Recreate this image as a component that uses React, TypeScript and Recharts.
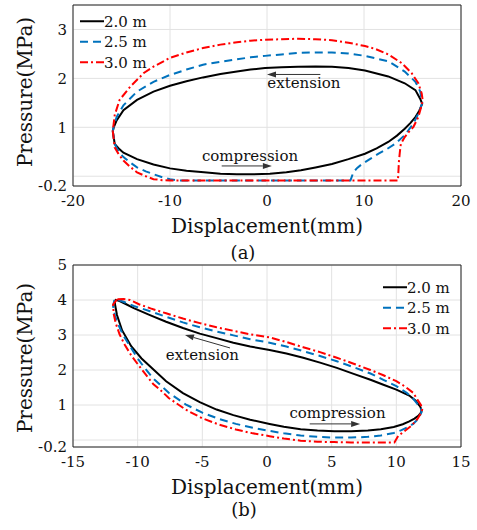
import { LineChart, Line, XAxis, YAxis, CartesianGrid, ReferenceLine, ReferenceDot, Legend } from "recharts"

type Pt = [number, number]

const FONT = "DejaVu Serif"

const seriesNames = ["2.0 m", "2.5 m", "3.0 m"]
const seriesColors = ["#000000", "#0072BD", "#FF0000"]
const seriesDash = [undefined, "8 5", "8 3 2 3"]

// (a) displacement (mm) vs pressure (MPa): compression branch left→right, then extension back
const loopA20: Pt[] = [
  [-15.9, 0.92], [-15.7, 0.66], [-15.2, 0.55], [-14.8, 0.48], [-13.4, 0.35], [-11.7, 0.24], [-10, 0.16],
  [-8.3, 0.11], [-6.5, 0.08], [-4.8, 0.05], [-3.1, 0.04], [-1.4, 0.04], [0.3, 0.05], [2.0, 0.08],
  [3.5, 0.12], [5.0, 0.18], [6.7, 0.25], [8.4, 0.35], [10.1, 0.46], [11.3, 0.57], [12.5, 0.7],
  [13.4, 0.83], [14.2, 0.97], [14.8, 1.09], [15.3, 1.21], [15.7, 1.34], [16.0, 1.48],
  [15.8, 1.58], [15.3, 1.76], [14.2, 1.9], [12.5, 2.04], [10.1, 2.16], [8.4, 2.21], [6.7, 2.24],
  [5.0, 2.245], [3.2, 2.24], [1.5, 2.23], [-0.2, 2.21], [-1.7, 2.18], [-3.1, 2.14], [-4.8, 2.09],
  [-6.6, 2.02], [-8.3, 1.94], [-10.0, 1.85], [-11.7, 1.73], [-13.4, 1.56], [-14.8, 1.35],
  [-15.5, 1.14], [-15.8, 1.0], [-15.9, 0.92],
]
const loopA25: Pt[] = [
  [-15.9, 0.92], [-15.7, 0.66], [-15.3, 0.5], [-14.8, 0.39], [-14.1, 0.28], [-13.4, 0.18], [-12.5, 0.1],
  [-11.7, 0.04], [-10.8, -0.02], [-10.0, -0.06], [-9.0, -0.09], [8.6, -0.09], [8.9, 0.08], [9.3, 0.17],
  [9.8, 0.25], [10.6, 0.35], [11.5, 0.46], [12.4, 0.56], [13.2, 0.66], [14.2, 0.84], [15.1, 1.08],
  [15.7, 1.32], [16.0, 1.5],
  [15.8, 1.73], [15.3, 1.93], [14.2, 2.14], [12.5, 2.35], [10.1, 2.46], [8.4, 2.51], [6.7, 2.53],
  [5.0, 2.53], [3.2, 2.52], [1.5, 2.49], [-0.2, 2.46], [-1.7, 2.43], [-3.1, 2.39], [-4.8, 2.34],
  [-6.6, 2.28], [-8.3, 2.18], [-10.0, 2.07], [-11.7, 1.93], [-13.4, 1.73], [-14.8, 1.45],
  [-15.5, 1.21], [-15.8, 1.02], [-15.9, 0.92],
]
const loopA30: Pt[] = [
  [-15.9, 0.92], [-15.7, 0.59], [-15.3, 0.45], [-14.8, 0.32], [-14.1, 0.19], [-13.4, 0.08], [-12.5, 0.0],
  [-11.7, -0.06], [-10.8, -0.08], [-10.0, -0.09], [13.5, -0.09], [13.6, 0.3], [13.7, 0.5], [13.8, 0.66],
  [14.2, 0.8], [14.6, 0.9], [15.1, 1.01], [15.6, 1.21], [15.9, 1.42], [16.05, 1.55],
  [15.95, 1.69], [15.6, 1.9], [14.9, 2.11], [13.9, 2.31], [12.5, 2.49], [11.2, 2.6], [10.1, 2.66],
  [8.4, 2.73], [6.7, 2.78], [5.0, 2.8], [3.2, 2.81], [1.5, 2.8], [-0.2, 2.79], [-1.7, 2.77],
  [-3.1, 2.74], [-4.8, 2.69], [-6.6, 2.62], [-8.3, 2.53], [-10.0, 2.42], [-11.7, 2.24], [-12.7, 2.11],
  [-14.1, 1.83], [-15.2, 1.56], [-15.7, 1.25], [-15.9, 0.92],
]

// (b)
const loopB20: Pt[] = [
  [-11.76, 4.01], [-11.75, 3.87], [-11.6, 3.57], [-11.2, 3.13], [-10.5, 2.68], [-9.7, 2.33], [-8.8, 2.02],
  [-7.8, 1.68], [-6.5, 1.34], [-5.2, 1.08], [-3.9, 0.87], [-2.6, 0.71], [-1.3, 0.58], [0.2, 0.46],
  [1.3, 0.38], [2.6, 0.31], [3.9, 0.27], [5.2, 0.25], [6.5, 0.25], [7.8, 0.27], [8.8, 0.31],
  [9.8, 0.37], [10.5, 0.45], [11.0, 0.53], [11.4, 0.61], [11.7, 0.69], [11.9, 0.78], [11.96, 0.84],
  [11.85, 0.95], [11.5, 1.12], [11.0, 1.27], [10.0, 1.44], [9.0, 1.58], [8.0, 1.72], [6.7, 1.89],
  [5.4, 2.06], [4.1, 2.21], [2.8, 2.35], [1.5, 2.47], [0.2, 2.57], [-1.3, 2.67], [-2.6, 2.78],
  [-3.9, 2.91], [-5.2, 3.04], [-6.5, 3.2], [-7.8, 3.38], [-9.05, 3.57], [-10.3, 3.77], [-11.0, 3.9],
  [-11.4, 3.97], [-11.76, 4.01],
]
const loopB25: Pt[] = [
  [-11.8, 4.0], [-11.9, 3.82], [-11.75, 3.55], [-11.5, 3.3], [-11.1, 2.98], [-10.6, 2.68], [-10.0, 2.33],
  [-9.4, 2.03], [-8.8, 1.76], [-7.6, 1.35], [-6.3, 1.02], [-5.0, 0.78], [-3.7, 0.6], [-2.4, 0.46],
  [-1.1, 0.35], [0.2, 0.26], [1.3, 0.19], [2.6, 0.13], [3.9, 0.09], [5.2, 0.07], [6.5, 0.07], [7.8, 0.09],
  [8.8, 0.13], [9.8, 0.2], [10.4, 0.28], [10.9, 0.37], [11.3, 0.46], [11.6, 0.57], [11.8, 0.68],
  [11.95, 0.8],
  [11.9, 0.9], [11.7, 1.0], [11.3, 1.18], [10.8, 1.35], [10.0, 1.54], [9.0, 1.72], [8.0, 1.9],
  [6.7, 2.08], [5.4, 2.25], [4.1, 2.4], [2.8, 2.54], [1.5, 2.67], [0.2, 2.78], [-1.3, 2.88],
  [-2.6, 2.99], [-3.9, 3.1], [-5.2, 3.22], [-6.5, 3.36], [-7.8, 3.52], [-9.05, 3.68], [-10.3, 3.83],
  [-11.1, 3.95], [-11.5, 4.0], [-11.8, 4.0],
]
const loopB30: Pt[] = [
  [-11.6, 4.02], [-11.9, 3.87], [-11.85, 3.6], [-11.7, 3.34], [-11.4, 3.02], [-11.0, 2.72], [-10.5, 2.42],
  [-10.0, 2.17], [-9.4, 1.88], [-8.8, 1.6], [-8.1, 1.38], [-7.6, 1.2], [-6.3, 0.87], [-5.0, 0.62],
  [-3.7, 0.44], [-2.4, 0.3], [-1.1, 0.19], [0.2, 0.11], [1.3, 0.04], [2.6, -0.02], [3.9, -0.05],
  [5.2, -0.06], [6.5, -0.07], [7.8, -0.07], [9.85, -0.07], [10.15, 0.12], [10.7, 0.27], [11.2, 0.42],
  [11.65, 0.61], [11.95, 0.8], [12.0, 0.88],
  [11.9, 1.0], [11.6, 1.17], [11.3, 1.35], [10.7, 1.52], [10.0, 1.68], [9.0, 1.85], [8.0, 2.0],
  [6.7, 2.18], [5.4, 2.35], [4.1, 2.51], [2.8, 2.65], [1.5, 2.8], [0.2, 2.93], [-1.3, 3.02],
  [-2.6, 3.12], [-3.9, 3.22], [-5.2, 3.34], [-6.5, 3.47], [-7.8, 3.62], [-9.0, 3.76], [-9.9, 3.88],
  [-10.6, 4.0], [-11.1, 4.03], [-11.6, 4.02],
]

const ticksAX = [-20, -10, 0, 10, 20]
const ticksAY = [-0.2, 0, 1, 2, 3]
const ticksBX = [-15, -10, -5, 0, 5, 10, 15]
const ticksBY = [-0.2, 0, 1, 2, 3, 4, 5]

type Note = { text: string; at: Pt; from: Pt; to: Pt }

const notesA: Note[] = [
  { text: "extension", at: [3.8, 1.9], from: [5.5, 2.08], to: [0, 2.08] },
  { text: "compression", at: [-1.75, 0.42], from: [-4.67, 0.21], to: [0.5, 0.21] },
]
const notesB: Note[] = [
  { text: "extension", at: [-5.0, 2.44], from: [-2.86, 2.63], to: [-6.34, 3.0] },
  { text: "compression", at: [5.45, 0.76], from: [3.3, 0.46], to: [7.2, 0.46] },
]

const toPoints = (loop: Pt[]) => loop.map(([x, y]) => ({ x, y }))

// zero gets a grid line and tick but no label
const yTickText = (v: number) => (v === 0 ? "" : String(v))

function arrowShape(props: any) {
  const { x1, y1, x2, y2 } = props
  const ang = Math.atan2(y2 - y1, x2 - x1)
  const len = 9
  const half = 3
  const bx = x2 - len * Math.cos(ang)
  const by = y2 - len * Math.sin(ang)
  const pts = [
    [x2, y2],
    [bx - half * Math.sin(ang), by + half * Math.cos(ang)],
    [bx + half * Math.sin(ang), by - half * Math.cos(ang)],
  ]
  return (
    <g>
      <line x1={x1} y1={y1} x2={bx} y2={by} stroke="#333" strokeWidth={1} />
      <polygon points={pts.map((p) => p.join(",")).join(" ")} fill="#333" />
    </g>
  )
}

function LegendBox({ rowGap }: { rowGap: number }) {
  return (
    <svg width={80} height={rowGap * 3} style={{ display: "block" }}>
      {seriesNames.map((name, i) => {
        const cy = rowGap * i + rowGap / 2
        return (
          <g key={name}>
            <line x1={0} x2={24} y1={cy} y2={cy} stroke={seriesColors[i]} strokeWidth={2} strokeDasharray={seriesDash[i]} />
            <text x={24} y={cy + 5.5} fontFamily={FONT} fontSize={15} fill="#111">
              {name}
            </text>
          </g>
        )
      })}
    </svg>
  )
}

interface PanelProps {
  loops: Pt[][]
  xDomain: [number, number]
  xTicks: number[]
  yDomain: [number, number]
  yTicks: number[]
  notes: Note[]
  height: number
  top: number
  bottom: number
  legendPos: { left: number; top: number }
}

function LoopPanel({ loops, xDomain, xTicks, yDomain, yTicks, notes, height, top, bottom, legendPos }: PanelProps) {
  const tickStyle = { fontFamily: FONT, fontSize: 15, fill: "#111" }
  return (
    <LineChart width={477} height={height} margin={{ top, right: 16, bottom, left: 33 }}>
      <CartesianGrid stroke="#e2e2e2" strokeWidth={1} />
      <XAxis
        xAxisId={0}
        type="number"
        dataKey="x"
        domain={xDomain}
        ticks={xTicks}
        interval={0}
        height={30}
        tickLine={false}
        tickSize={6}
        tickMargin={3}
        tick={tickStyle}
        axisLine={{ stroke: "#222" }}
      />
      <XAxis xAxisId="top" orientation="top" mirror type="number" domain={xDomain} ticks={xTicks} interval={0} tick={false} tickSize={4} tickLine={{ stroke: "#444" }} axisLine={{ stroke: "#222" }} />
      <XAxis xAxisId="bin" orientation="bottom" mirror type="number" domain={xDomain} ticks={xTicks} interval={0} tick={false} tickSize={4} tickLine={{ stroke: "#444" }} axisLine={false} />
      <YAxis
        yAxisId={0}
        type="number"
        dataKey="y"
        domain={yDomain}
        ticks={yTicks}
        interval={0}
        width={40}
        tickLine={false}
        tickSize={2}
        tickMargin={4}
        tick={tickStyle}
        tickFormatter={yTickText}
        axisLine={{ stroke: "#222" }}
      />
      <YAxis yAxisId="right" orientation="right" mirror type="number" domain={yDomain} ticks={yTicks} interval={0} tick={false} tickSize={4} tickLine={{ stroke: "#444" }} axisLine={{ stroke: "#222" }} />
      <YAxis yAxisId="lin" orientation="left" mirror type="number" domain={yDomain} ticks={yTicks} interval={0} tick={false} tickSize={4} tickLine={{ stroke: "#444" }} axisLine={false} />
      {loops.map((loop, i) => (
        <Line
          key={seriesNames[i]}
          data={toPoints(loop)}
          dataKey="y"
          name={seriesNames[i]}
          type="linear"
          stroke={seriesColors[i]}
          strokeWidth={2}
          strokeDasharray={seriesDash[i]}
          dot={false}
          activeDot={false}
          isAnimationActive={false}
        />
      ))}
      {notes.map((n) => (
        <ReferenceLine key={n.text + "-arrow"} segment={[{ x: n.from[0], y: n.from[1] }, { x: n.to[0], y: n.to[1] }]} shape={arrowShape} />
      ))}
      {notes.map((n) => (
        <ReferenceDot
          key={n.text}
          x={n.at[0]}
          y={n.at[1]}
          shape={(p: any) => (
            <text x={p.cx} y={p.cy + 5} textAnchor="middle" fontFamily={FONT} fontSize={15} fill="#111">
              {n.text}
            </text>
          )}
        />
      ))}
      <Legend
        layout="vertical"
        align="center"
        verticalAlign="middle"
        wrapperStyle={{ left: legendPos.left, top: legendPos.top, width: 80 }}
        content={() => <LegendBox rowGap={20.5} />}
      />
    </LineChart>
  )
}

const textBase = {
  position: "absolute" as const,
  fontFamily: FONT,
  color: "#111",
  lineHeight: 1,
  whiteSpace: "nowrap" as const,
  transform: "translate(-50%, -50%)",
}

export default function App() {
  return (
    <div style={{ position: "absolute", left: 0, top: 0, width: 477, height: 530, background: "#fff", overflow: "hidden" }}>
      <div style={{ position: "absolute", left: 0, top: 0 }}>
        <LoopPanel
          loops={[loopA20, loopA25, loopA30]}
          xDomain={[-20, 20]}
          xTicks={ticksAX}
          yDomain={[-0.2, 3.5]}
          yTicks={ticksAY}
          notes={notesA}
          height={260}
          top={5}
          bottom={44}
          legendPos={{ left: 80, top: 11 }}
        />
      </div>
      <div style={{ position: "absolute", left: 0, top: 250 }}>
        <LoopPanel
          loops={[loopB20, loopB25, loopB30]}
          xDomain={[-15, 15]}
          xTicks={ticksBX}
          yDomain={[-0.2, 5]}
          yTicks={ticksBY}
          notes={notesB}
          height={280}
          top={15}
          bottom={53}
          legendPos={{ left: 383, top: 27 }}
        />
      </div>

      <div style={{ ...textBase, left: 267, top: 226, fontSize: 20 }}>Displacement(mm)</div>
      <div style={{ ...textBase, left: 25, top: 92, fontSize: 20, transform: "translate(-50%, -50%) rotate(-90deg)" }}>
        Pressure(MPa)
      </div>
      <div style={{ ...textBase, left: 243, top: 253, fontSize: 18 }}>(a)</div>

      <div style={{ ...textBase, left: 267, top: 487, fontSize: 20 }}>Displacement(mm)</div>
      <div style={{ ...textBase, left: 25, top: 358, fontSize: 20, transform: "translate(-50%, -50%) rotate(-90deg)" }}>
        Pressure(MPa)
      </div>
      <div style={{ ...textBase, left: 244, top: 510, fontSize: 18 }}>(b)</div>
    </div>
  )
}
